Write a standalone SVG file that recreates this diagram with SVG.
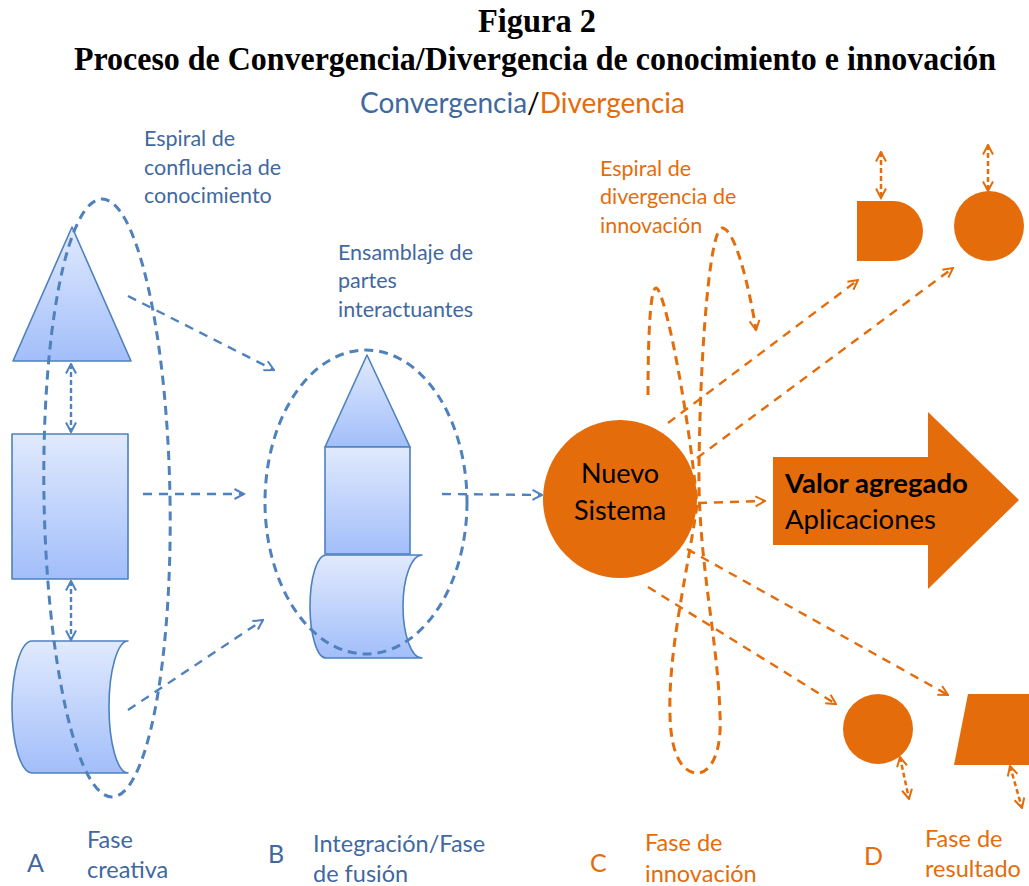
<svg xmlns="http://www.w3.org/2000/svg" width="1029" height="886" viewBox="0 0 1029 886">
  <defs>
    <style>
      .title { font-family: "Liberation Serif", "Times New Roman", serif; font-weight: bold; font-size: 33px; fill: #000; }
      .lbl { font-family: Lato, "Open Sans", sans-serif; }
      .blue { fill: #41689f; }
      .orange { fill: #e46c0a; }
      .shape { fill: url(#blueGrad); stroke: #4f81bd; stroke-width: 1.6; stroke-linejoin: round; }
      .ring { fill: none; stroke: #4f81bd; stroke-width: 3; stroke-dasharray: 9 6; }
      .bline { fill: none; stroke: #4f81bd; stroke-width: 2.4; stroke-dasharray: 9 7; }
      .bdbl { fill: none; stroke: #4f81bd; stroke-width: 2.4; stroke-dasharray: 5 3; }
      .oline { fill: none; stroke: #e46c0a; stroke-width: 2.4; stroke-dasharray: 9 7; }
      .odbl { fill: none; stroke: #e46c0a; stroke-width: 2.5; stroke-dasharray: 5 3; }
      .spiral { fill: none; stroke: #e46c0a; stroke-width: 3; stroke-dasharray: 9 6; }
      .solid { fill: #e46c0a; }
    </style>
    <linearGradient id="blueGrad" x1="0" y1="0" x2="0" y2="1">
      <stop offset="0" stop-color="#e1eafd"/>
      <stop offset="1" stop-color="#a2befa"/>
    </linearGradient>
    <marker id="arrB" viewBox="0 0 12 12" refX="10.5" refY="6" markerWidth="12" markerHeight="12" markerUnits="userSpaceOnUse" orient="auto-start-reverse">
      <path d="M1,1 L10.5,6 L1,11" fill="none" stroke="#4f81bd" stroke-width="2"/>
    </marker>
    <marker id="arrO" viewBox="0 0 12 12" refX="10.5" refY="6" markerWidth="12" markerHeight="12" markerUnits="userSpaceOnUse" orient="auto-start-reverse">
      <path d="M1,1 L10.5,6 L1,11" fill="none" stroke="#e46c0a" stroke-width="2"/>
    </marker>
  </defs>

  <rect width="1029" height="886" fill="#ffffff"/>

  <!-- Headings -->
  <g id="heading">
    <text class="title" x="537" y="32" text-anchor="middle" textLength="118" lengthAdjust="spacingAndGlyphs">Figura 2</text>
    <text class="title" x="535" y="70" text-anchor="middle" textLength="922" lengthAdjust="spacingAndGlyphs">Proceso de Convergencia/Divergencia de conocimiento e innovación</text>
    <text class="lbl" x="360" y="113" font-size="28"><tspan class="blue">Convergencia</tspan><tspan fill="#000">/</tspan><tspan class="orange">Divergencia</tspan></text>
  </g>

  <!-- Connectors -->
  <g id="connectors">
    <!-- phase A to phase B -->
    <line class="bline" x1="128" y1="296" x2="274" y2="370" marker-end="url(#arrB)"/>
    <line class="bline" x1="143" y1="494" x2="244" y2="494" marker-end="url(#arrB)"/>
    <line class="bline" x1="128" y1="710" x2="263" y2="620" marker-end="url(#arrB)"/>
    <!-- phase B to phase C -->
    <line class="bline" x1="442" y1="494" x2="542" y2="495" marker-end="url(#arrB)"/>
    <!-- links inside phase A -->
    <line class="bdbl" x1="71" y1="364" x2="71" y2="432" marker-start="url(#arrB)" marker-end="url(#arrB)"/>
    <line class="bdbl" x1="71" y1="581" x2="71" y2="640" marker-start="url(#arrB)" marker-end="url(#arrB)"/>

    <!-- divergence rays from the new system -->
    <line class="oline" x1="668" y1="423" x2="858" y2="280" marker-end="url(#arrO)"/>
    <line class="oline" x1="697" y1="458" x2="953" y2="268" marker-end="url(#arrO)"/>
    <line class="oline" x1="698" y1="503" x2="765" y2="501" marker-end="url(#arrO)"/>
    <line class="oline" x1="687" y1="549" x2="948" y2="695" marker-end="url(#arrO)"/>
    <line class="oline" x1="648" y1="587" x2="836" y2="704" marker-end="url(#arrO)"/>

    <!-- outward links of the results -->
    <line class="odbl" x1="881" y1="152" x2="881" y2="198" marker-start="url(#arrO)" marker-end="url(#arrO)"/>
    <line class="odbl" x1="988" y1="145" x2="988" y2="191" marker-start="url(#arrO)" marker-end="url(#arrO)"/>
    <line class="odbl" x1="900" y1="757" x2="909" y2="799" marker-start="url(#arrO)" marker-end="url(#arrO)"/>
    <line class="odbl" x1="1010" y1="766" x2="1022" y2="808" marker-start="url(#arrO)" marker-end="url(#arrO)"/>
  </g>

  <!-- A: creative phase -->
  <g id="phase-a">
    <polygon class="shape" points="72,227 131,361 13,361"/>
    <rect class="shape" x="12" y="434" width="116" height="145"/>
    <path class="shape" d="M32,641 H128 A19,66 0 0 0 128,773 H32 A20,66 0 0 1 32,641 Z"/>
    <ellipse class="ring" cx="107" cy="498" rx="63" ry="299" transform="rotate(-1 107 498)"/>
    <text class="lbl blue" font-size="21.5"><tspan x="144" y="146">Espiral de</tspan><tspan x="144" y="175">confluencia de</tspan><tspan x="144" y="203">conocimiento</tspan></text>
  </g>

  <!-- B: integration / fusion -->
  <g id="phase-b">
    <polygon class="shape" points="367,355 410,447 325,447"/>
    <rect class="shape" x="325" y="447" width="85" height="107"/>
    <path class="shape" d="M326,555 H422 A19,51.5 0 0 0 422,658 H326 A16,51.5 0 0 1 326,555 Z"/>
    <ellipse class="ring" cx="366" cy="502" rx="101" ry="152"/>
    <text class="lbl blue" font-size="21.5"><tspan x="338" y="260">Ensamblaje de</tspan><tspan x="338" y="288">partes</tspan><tspan x="338" y="317">interactuantes</tspan></text>
  </g>

  <!-- C: innovation -->
  <g id="phase-c">
    <ellipse class="solid" cx="620" cy="499" rx="77" ry="79"/>
    <text class="lbl" font-size="27" fill="#000" text-anchor="middle"><tspan x="620" y="483">Nuevo</tspan><tspan x="620" y="520">Sistema</tspan></text>
    <path class="spiral" d="M648,395 C648,340 650,288 656,288 C665,288 690,420 697,505 C688,570 668,650 670,715 C671,760 685,773 697,773 C712,773 722,750 720,715 C718,640 698,560 699,470 C700,350 710,228 722,228 C734,228 748,280 756,330" marker-end="url(#arrO)"/>
    <text class="lbl orange" font-size="21.5"><tspan x="600" y="176">Espiral de</tspan><tspan x="600" y="204">divergencia de</tspan><tspan x="600" y="233">innovación</tspan></text>
  </g>

  <!-- Value added -->
  <g id="value-added">
    <polygon class="solid" points="773,457 928,457 928,412 1019,500 928,589 928,545 773,545"/>
    <text class="lbl" font-size="27.5" fill="#000"><tspan x="785" y="493" font-weight="bold">Valor agregado</tspan><tspan x="785" y="529">Aplicaciones</tspan></text>
  </g>

  <!-- D: results -->
  <g id="result-d-shape">
    <path class="solid" d="M857,201 H893 A30,30 0 0 1 893,261 H857 Z"/>
  </g>
  <g id="result-circle-top">
    <circle class="solid" cx="989" cy="226" r="35"/>
  </g>
  <g id="result-circle-bottom">
    <circle class="solid" cx="878" cy="729" r="35"/>
  </g>
  <g id="result-parallelogram">
    <polygon class="solid" points="968,694 1045,694 1031,765 954,765"/>
  </g>

  <!-- Phase captions -->
  <g id="caption-a">
    <text class="lbl blue" x="27" y="872" font-size="25">A</text>
    <text class="lbl blue" font-size="23.5"><tspan x="87" y="848">Fase</tspan><tspan x="87" y="878">creativa</tspan></text>
  </g>
  <g id="caption-b">
    <text class="lbl blue" x="268" y="863" font-size="25">B</text>
    <text class="lbl blue" font-size="23.5"><tspan x="313" y="852">Integración/Fase</tspan><tspan x="313" y="882">de fusión</tspan></text>
  </g>
  <g id="caption-c">
    <text class="lbl orange" x="590" y="872" font-size="25">C</text>
    <text class="lbl orange" font-size="23.5"><tspan x="645" y="851">Fase de</tspan><tspan x="645" y="882">innovación</tspan></text>
  </g>
  <g id="caption-d">
    <text class="lbl orange" x="864" y="865" font-size="25">D</text>
    <text class="lbl orange" font-size="23.5"><tspan x="925" y="847">Fase de</tspan><tspan x="925" y="877">resultado</tspan></text>
  </g>
</svg>
